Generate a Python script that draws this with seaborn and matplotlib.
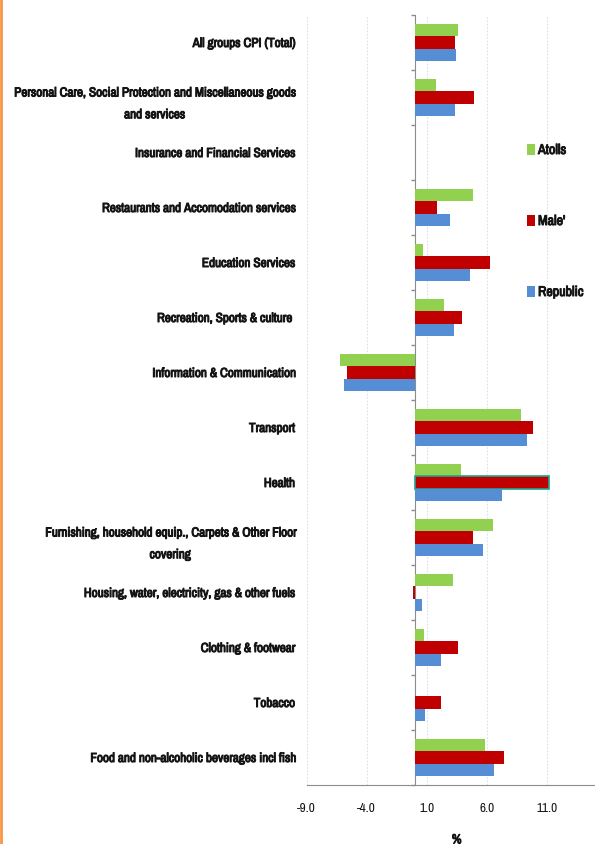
import matplotlib
matplotlib.use("Agg")
import matplotlib.pyplot as plt
import matplotlib.font_manager as fm
import matplotlib.patheffects as pe
from matplotlib.lines import Line2D
import numpy as np
import pandas as pd
import seaborn as sns

categories = [
    "All groups CPI (Total)",
    "Personal Care, Social Protection and Miscellaneous goods\nand services",
    "Insurance and Financial Services",
    "Restaurants and Accomodation services",
    "Education Services",
    "Recreation, Sports & culture ",
    "Information & Communication",
    "Transport",
    "Health",
    "Furnishing, household equip., Carpets & Other Floor\ncovering",
    "Housing, water, electricity, gas & other fuels",
    "Clothing & footwear",
    "Tobacco",
    "Food and non-alcoholic beverages incl fish",
]
series = ["Atolls", "Male'", "Republic"]
atolls = [3.58, 1.75, 0.0, 4.86, 0.67, 2.42, -6.23, 8.89, 3.86, 6.56, 3.17, 0.78, 0.0, 5.86]
male = [3.39, 4.94, 0.0, 1.89, 6.25, 3.97, -5.67, 9.83, 11.22, 4.89, -0.15, 3.64, 2.17, 7.42]
republic = [3.47, 3.36, 0.0, 2.97, 4.58, 3.25, -5.92, 9.33, 7.25, 5.69, 0.61, 2.22, 0.87, 6.61]
x_ticks = [-9.0, -4.0, 1.0, 6.0, 11.0]
colors = ["#92D050", "#C00000", "#558ED5"]

df = pd.DataFrame({
    "category": categories * 3,
    "series": [s for s in series for _ in categories],
    "value": atolls + male + republic,
})

sns.set_style("white")


def narrow_font():
    """Return (family, stretch) of a narrow sans font if one is installed."""
    for f in fm.fontManager.ttflist:
        n = f.name.lower()
        if "narrow" in n or "condensed" in n:
            return f.name, "normal"
    for f in fm.fontManager.ttflist:
        if str(f.stretch) in ("condensed", "semi-condensed", "500", "600"):
            return f.name, "condensed"
    return "Roboto", "normal"


family, stretch = narrow_font()
plt.rcParams["font.family"] = [family, "DejaVu Sans"]
plt.rcParams["font.stretch"] = stretch
TEXT = "#141414"
heavy = [pe.withStroke(linewidth=0.7, foreground=TEXT)]

fig = plt.figure(figsize=(5.95, 8.45), dpi=100)
renderer = fig.canvas.get_renderer()


def fit_size(text, target_px):
    t = fig.text(0, 0, text, fontsize=10)
    w = t.get_window_extent(renderer).width
    t.remove()
    return 10 * target_px / w


lab_size = min(fit_size("Personal Care, Social Protection and Miscellaneous goods", 283), 9.5)
tick_size = min(fit_size("-9.0", 21), 9.5)
leg_size = min(fit_size("Republic", 46), 12)
leg_px = leg_size * 100 / 72

xmin, xmax = -9.0, 16.0
ax = fig.add_axes([306.7 / 595, 1 - 786 / 845, (606.7 - 306.7) / 595, 770 / 845])

sns.barplot(data=df, y="category", x="value", hue="series", order=categories,
            hue_order=series, palette=colors, orient="h", width=0.667,
            saturation=1, ax=ax, legend=True, linewidth=0)

ax.set_xlim(xmin, xmax)
ax.set_ylim(len(categories) - 0.5, -0.5)

# highlight outline on the Health / Male' bar
for p in ax.patches:
    if abs(p.get_width() - 11.22) < 1e-6:
        p.set_edgecolor("#1FA58C")
        p.set_linewidth(1.2)

# grid and axes styling
ax.set_xticks(x_ticks)
ax.set_xticklabels([f"{v:.1f}" for v in x_ticks], fontsize=tick_size, color=TEXT)
ax.xaxis.grid(True, color="#D6E0F0", linestyle=(0, (1.5, 1.5)), linewidth=0.8)
ax.yaxis.grid(False)
ax.set_axisbelow(True)
for s in ["top", "right", "left"]:
    ax.spines[s].set_visible(False)
ax.spines["bottom"].set_color("#8C8C8C")
ax.tick_params(axis="x", direction="out", length=3.6, color="#8C8C8C", width=1, pad=9)
ax.tick_params(axis="y", length=0, pad=8.5)
for lab in ax.get_yticklabels():
    lab.set_fontsize(lab_size)
    lab.set_color(TEXT)
    lab.set_multialignment("center")
    lab.set_linespacing(2.2)
    lab.set_path_effects(heavy)
ax.set_ylabel("")
ax.set_xlabel("%", fontsize=tick_size, labelpad=15, color=TEXT)
ax.xaxis.label.set_path_effects(heavy)

# zero axis with category separators
secax = ax.secondary_yaxis((0 - xmin) / (xmax - xmin))
secax.set_yticks(np.arange(-0.5, len(categories), 1.0))
secax.set_yticklabels([])
secax.tick_params(length=3, color="#8C8C8C", width=1)
secax.spines["left"].set_color("#8C8C8C")

# legend on the right
handles, labels = ax.get_legend_handles_labels()
leg = ax.legend(handles, labels, loc="center left", bbox_to_anchor=(527 / 595, 1 - 222 / 845),
                bbox_transform=fig.transFigure, frameon=False, borderpad=0, borderaxespad=0,
                labelspacing=(71 - 14) / leg_px, handlelength=8 / leg_px,
                handleheight=12 / leg_px, handletextpad=3 / leg_px,
                prop={"size": leg_size})
for t in leg.get_texts():
    t.set_color(TEXT)
    t.set_path_effects(heavy)

# orange rule on the left edge
fig.add_artist(Line2D([0.002, 0.002], [0, 1], transform=fig.transFigure,
                      color="#F79646", linewidth=2))

fig.savefig("out.png", dpi=100)
